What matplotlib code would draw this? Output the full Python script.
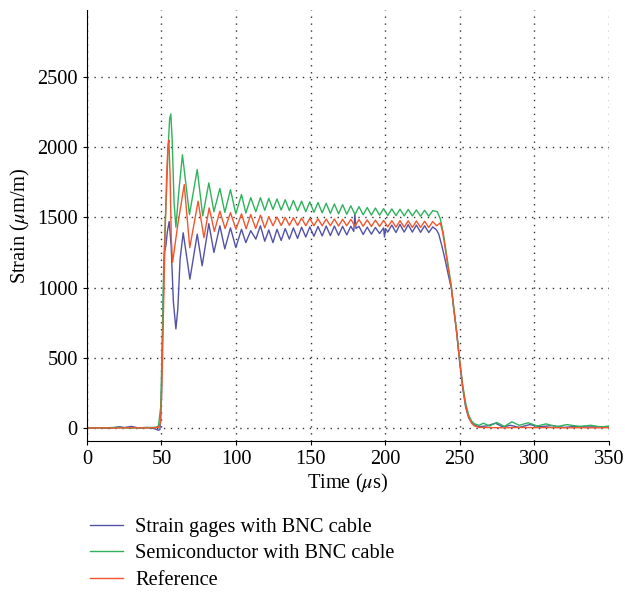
import matplotlib
matplotlib.use("Agg")
import matplotlib.pyplot as plt

plt.rcParams['font.family'] = ['Liberation Serif', 'DejaVu Serif']
plt.rcParams['mathtext.fontset'] = 'stix'

# Strain gages with BNC cable (blue) -- peaks / troughs
t_blue = [0, 8, 15, 22, 25, 30, 35, 40, 45, 48,
          49, 50, 51, 52, 53, 54, 55.2, 56.5, 58, 59.7,
          61, 62.5, 64.6, 69.1, 74, 77.3, 81.8, 85.2, 89.2, 92.5,
          96.3, 99.9, 103.7, 106.6, 109.9, 113.3, 116.4, 119.3, 122, 124.8,
          127.5, 130.3, 133, 135.8, 138.5, 141.3, 144, 146.8, 149.5, 152.3,
          155, 157.8, 160.5, 163.3, 166, 168.8, 171.5, 174.3, 177, 179,
          179.7, 180.5, 182.5, 185.3, 188, 190.8, 193.5, 196.3, 199, 199.6,
          200.3, 201.8, 204.5, 207.3, 210, 212.8, 215.5, 218.3, 221, 223.8,
          226.5, 229.3, 232, 234.5, 236, 238, 240, 242, 244.5, 246,
          248, 250, 252, 254, 256, 258, 260, 263, 268, 274,
          279, 284, 290, 297, 304, 312, 320, 328, 336, 344, 350]
v_blue = [0, 3, -2, 10, 4, 12, 0, 5, -3, -15,
          -10, 200, 800, 1250, 1300, 1400, 1470, 1300, 900, 706,
          850, 1200, 1390, 1060, 1380, 1155, 1455, 1250, 1440, 1275,
          1425, 1285, 1415, 1320, 1405, 1345, 1440, 1330, 1410, 1320,
          1415, 1335, 1420, 1345, 1425, 1350, 1430, 1360, 1432, 1365,
          1435, 1368, 1438, 1370, 1438, 1372, 1436, 1375, 1437, 1400,
          1525, 1420, 1436, 1378, 1430, 1380, 1428, 1385, 1425, 1360,
          1420, 1395, 1445, 1392, 1450, 1395, 1448, 1395, 1445, 1393,
          1440, 1392, 1432, 1410, 1380, 1300, 1210, 1110, 990, 850,
          680, 470, 290, 150, 75, 40, 20, 10, 15, 35,
          8, 20, 5, 25, 10, 18, 5, 12, 8, 10, 6]

# Semiconductor with BNC cable (green)
t_green = [0, 10, 20, 30, 40, 46, 48, 49.5, 50.5, 51.5,
           52.5, 53.5, 54.5, 55.5, 56.3, 57.2, 58.5, 59.7, 61.8, 64.1,
           68.8, 74, 77.7, 81.8, 85.2, 89.2, 92.5, 96.3, 99.9, 103.7,
           106.6, 109.9, 113.3, 116.4, 119.3, 122, 124.8, 127.5, 130.3, 133,
           135.8, 138.5, 141.3, 144, 146.8, 149.5, 152.3, 155, 157.8, 160.5,
           163.3, 166, 168.8, 171.5, 174.3, 177, 179.8, 182.5, 185.3, 188,
           190.8, 193.5, 196.3, 199, 201.8, 204.5, 207.3, 210, 212.8, 215.5,
           218.3, 221, 223.8, 226.5, 229.3, 232, 235, 237, 239, 241,
           243, 244.5, 246, 248, 250, 252, 254, 256, 258, 260,
           263, 266, 270, 275, 280, 285, 290, 296, 302, 308,
           315, 322, 330, 338, 345, 350]
v_green = [0, 2, 5, 0, 4, 5, 15, 150, 600, 1150,
           1450, 1700, 2000, 2200, 2235, 2050, 1600, 1430, 1700, 1945,
           1520, 1840, 1510, 1745, 1540, 1705, 1535, 1697, 1525, 1662,
           1530, 1640, 1540, 1640, 1550, 1635, 1556, 1630, 1552, 1625,
           1548, 1620, 1545, 1615, 1540, 1610, 1536, 1605, 1532, 1600,
           1528, 1595, 1525, 1590, 1522, 1582, 1520, 1576, 1518, 1570,
           1516, 1566, 1515, 1562, 1513, 1560, 1512, 1558, 1510, 1556,
           1510, 1553, 1508, 1550, 1508, 1548, 1540, 1490, 1390, 1250,
           1110, 1000, 860, 690, 482, 310, 180, 95, 50, 30,
           20, 35, 15, 40, 12, 45, 20, 38, 15, 30,
           10, 25, 12, 20, 8, 15]

# Reference (red)
t_ref = [0, 10, 20, 30, 40, 48, 49.5, 50.5, 51.5, 52.5,
         53.5, 54.3, 55, 55.8, 56.6, 57.5, 61, 65.3, 69, 74.6,
         78.5, 82, 85.5, 89.2, 92.7, 96.3, 100, 103.7, 106.8, 109.9,
         113.2, 116.4, 119.3, 122, 124.8, 127.5, 130.3, 133, 135.8, 138.5,
         141.3, 144, 146.8, 149.5, 152.3, 155, 157.8, 160.5, 163.3, 166,
         168.8, 171.5, 174.3, 177, 179.8, 182.5, 185.3, 188, 190.8, 193.5,
         196.3, 199, 201.8, 204.5, 207.3, 210, 212.8, 215.5, 218.3, 221,
         223.8, 226.5, 229.3, 232, 234.5, 237, 238.5, 240, 242, 244.5,
         246, 248, 250, 252, 254, 256, 258, 260, 263, 270,
         280, 290, 300, 310, 320, 330, 340, 350]
v_ref = [0, 2, 0, 3, 1, 5, 40, 400, 900, 1400,
         1800, 2000, 2050, 1800, 1350, 1180, 1450, 1733, 1284, 1615,
         1355, 1567, 1400, 1544, 1420, 1533, 1415, 1525, 1418, 1520,
         1420, 1515, 1425, 1505, 1440, 1502, 1442, 1500, 1443, 1498,
         1442, 1495, 1440, 1492, 1440, 1490, 1440, 1488, 1440, 1488,
         1438, 1486, 1440, 1485, 1438, 1484, 1436, 1482, 1435, 1480,
         1435, 1478, 1432, 1476, 1430, 1476, 1430, 1475, 1428, 1474,
         1428, 1472, 1428, 1470, 1440, 1460, 1400, 1300, 1160, 1000,
         860, 680, 482, 300, 160, 80, 35, 15, 5, 4,
         2, 5, 3, 4, 2, 3, 2, 3]

x_ticks = [0, 50, 100, 150, 200, 250, 300, 350]
y_ticks = [0, 500, 1000, 1500, 2000, 2500]

fig = plt.figure(figsize=(6.25, 5.92), dpi=100)
ax = fig.add_axes([0.139, 0.255, 0.835, 0.728])

ax.plot(t_blue, v_blue, color='#5252a8', lw=1.0, label='Strain gages with BNC cable')
ax.plot(t_green, v_green, color='#2fb25c', lw=1.0, label='Semiconductor with BNC cable')
ax.plot(t_ref, v_ref, color='#f2562d', lw=1.0, label='Reference')

ax.set_xlim(0, 350)
ax.set_ylim(-92, 2975)
ax.set_xticks(x_ticks)
ax.set_yticks(y_ticks)
ax.grid(True, linestyle=(0, (1, 4)), color='#333333', lw=1.0)
ax.spines['top'].set_visible(False)
ax.spines['right'].set_visible(False)
ax.tick_params(labelsize=14.7, direction='out', length=3, width=0.8)
ax.set_xlabel(r'Time ($\mu$s)', fontsize=14.7, labelpad=2)
ax.set_ylabel(r'Strain ($\mu$m/m)', fontsize=14.7, labelpad=4)

fig.legend(loc='upper left', bbox_to_anchor=(0.128, 0.143), frameon=False, fontsize=14.7,
           handlelength=1.6, handletextpad=0.6, labelspacing=0.36, borderpad=0)

fig.savefig('out.png', dpi=100)
